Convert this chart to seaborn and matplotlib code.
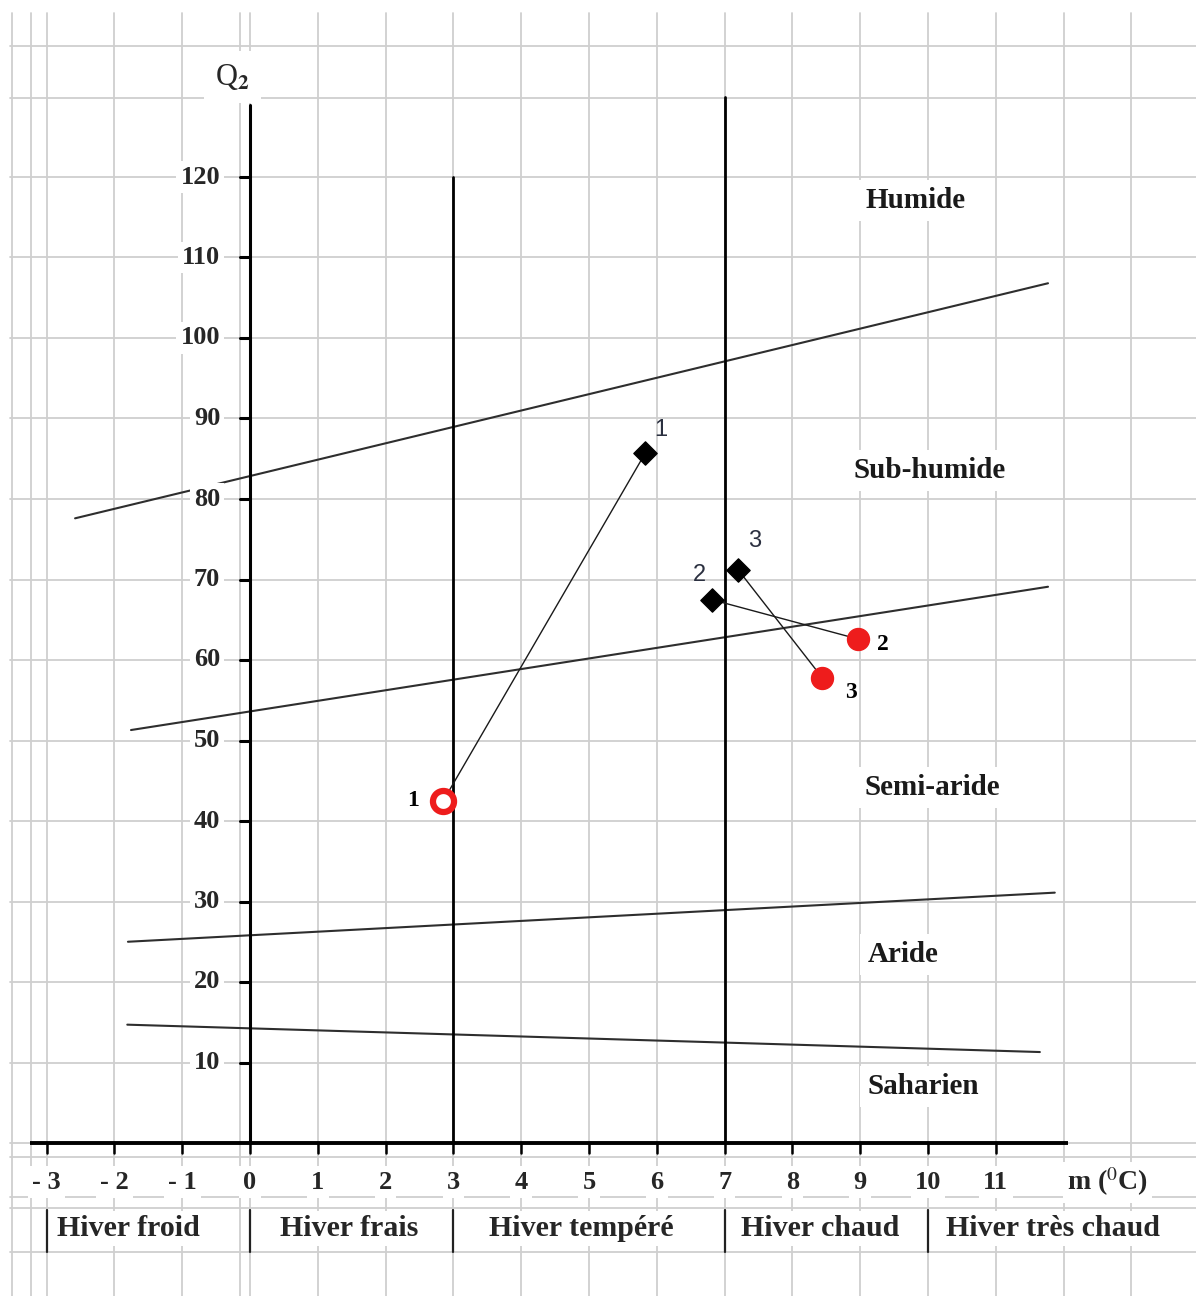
import matplotlib
matplotlib.use("Agg")
import matplotlib.pyplot as plt
import seaborn as sns
import pandas as pd

sns.set_theme(style="white")
plt.rcParams['font.family'] = ['Liberation Serif', 'DejaVu Serif']
plt.rcParams['mathtext.fontset'] = 'stix'

# ---------------- data ----------------
x_ticks = [-3, -2, -1, 0, 1, 2, 3, 4, 5, 6, 7, 8, 9, 10, 11]
x_tick_labels = ["- 3", "- 2", "- 1", "0", "1", "2", "3", "4", "5", "6", "7", "8", "9", "10", "11"]
y_ticks = [10, 20, 30, 40, 50, 60, 70, 80, 90, 100, 110, 120]

# climate-zone boundaries (start and end points)
limit_x = [[-2.58, 11.77], [-1.755, 11.77], [-1.80, 11.87], [-1.81, 11.65]]
limit_y = [[77.6, 106.8], [51.3, 69.1], [25.0, 31.1], [14.7, 11.3]]

zone_names = ["Humide", "Sub-humide", "Semi-aride", "Aride", "Saharien"]
zone_x = [9.81, 10.03, 10.07, 9.63, 9.93]
zone_y = [117.1, 83.6, 44.2, 23.4, 7.0]

winter_names = ["Hiver froid", "Hiver frais", "Hiver tempéré", "Hiver chaud", "Hiver très chaud"]
winter_x = [-1.8, 1.47, 4.88, 8.41, 11.84]
winter_bounds = [-3, 0, 3, 7, 10]

# stations: black = first period, red = second period
station_ids = ["1", "2", "3"]
black_m = [5.83, 6.81, 7.20]
black_q = [85.7, 67.5, 71.2]
red_m = [2.85, 8.97, 8.44]
red_q = [42.5, 62.6, 57.8]

# ---------------- figure ----------------
W, H = 1196, 1296
fig = plt.figure(figsize=(W / 100, H / 100), dpi=100)
ax = fig.add_axes([0, 0, 1, 1])
px_x, x0 = 67.8, 250
px_y, y0 = 8.05, 1143
ax.set_xlim(-x0 / px_x, (W - x0) / px_x)
ax.set_ylim(-(H - y0) / px_y, y0 / px_y)
ax.axis("off")

grid_c = "#cfcfcf"
grid_v = [-3.51, -3.23, -0.147] + list(range(-3, 14))
grid_h = [136.3, 129.8] + y_ticks + [0, -1.74, -6.71, -8.07, -13.54]
for gx in grid_v:
    ax.axvline(gx, ymin=0, ymax=0.99, color=grid_c, lw=1.3, zorder=0)
for gy in grid_h:
    ax.axhline(gy, xmin=0.008, xmax=1, color=grid_c, lw=1.3, zorder=0)

# zone boundary lines
for lx, ly in zip(limit_x, limit_y):
    sns.lineplot(x=lx, y=ly, ax=ax, color="#2e2e2e", lw=1.5, sort=False,
                 estimator=None, zorder=3)

# main axes
ax.plot([-3.24, 12.06], [0, 0], color="black", lw=2.8, zorder=4, solid_capstyle="butt")
ax.plot([0, 0], [0, 128.9], color="black", lw=2.2, zorder=4)
ax.plot([3, 3], [0, 120], color="black", lw=2.0, zorder=4)
ax.plot([7, 7], [0, 130], color="black", lw=2.0, zorder=4)

bb = dict(facecolor="white", edgecolor="none", pad=3)
for t in y_ticks:
    ax.plot([-0.15, 0], [t, t], color="black", lw=2.2, zorder=4)
    ax.text(-0.44, t, str(t), ha="right", va="center", fontsize=19,
            fontweight="bold", bbox=bb, zorder=5)
for t, lab in zip(x_ticks, x_tick_labels):
    ax.plot([t, t], [0, -1.25], color="black", lw=1.8, zorder=4)
    ax.text(t, -4.85, lab, ha="center", va="center", fontsize=19,
            fontweight="bold", bbox=bb, zorder=5)
ax.text(12.65, -4.85, r"m ($^{0}$C)", ha="center", va="center", fontsize=20,
        fontweight="bold", bbox=bb, zorder=5)
ax.text(-0.26, 132.4, r"Q$_{\mathbf{2}}$", ha="center", va="center", fontsize=22,
        bbox=dict(facecolor="white", edgecolor="none", pad=8), zorder=5)

for b in winter_bounds:
    ax.plot([b, b], [-8.3, -13.5], color="#222222", lw=1.6, zorder=4)
for name, wx in zip(winter_names, winter_x):
    ax.text(wx, -10.6, name, ha="center", va="center", fontsize=21.5,
            fontweight="bold", bbox=bb, zorder=5)

for name, zx, zy in zip(zone_names, zone_x, zone_y):
    ax.text(zx, zy, name, ha="center", va="center", fontsize=21,
            fontweight="bold", color="#1a1a1a",
            bbox=dict(facecolor="white", edgecolor="none", pad=5), zorder=5)

# connecting lines between the two periods
for bx, by, rx, ry in zip(black_m, black_q, red_m, red_q):
    sns.lineplot(x=[bx, rx], y=[by, ry], ax=ax, color="#1a1a1a", lw=1.0,
                 sort=False, estimator=None, zorder=6)

# markers
sns.scatterplot(x=black_m, y=black_q, ax=ax, marker="D", s=140, color="black",
                edgecolor="black", linewidth=1, zorder=7)
sns.scatterplot(x=red_m[1:], y=red_q[1:], ax=ax, marker="o", s=250,
                color="#ee1c1c", edgecolor="#ee1c1c", linewidth=1, zorder=7)
sns.scatterplot(x=red_m[:1], y=red_q[:1], ax=ax, marker="o", s=230,
                color="white", edgecolor="#ee1c1c", linewidth=4.5, zorder=7)

black_off = [(11, 17), (-9, 18), (12, 21)]
red_off = [(-22, 0), (18, -4), (21, -11)]
for sid, bx, by, off in zip(station_ids, black_m, black_q, black_off):
    ax.annotate(sid, (bx, by), xytext=off, textcoords="offset points",
                ha="center", va="center", fontsize=17, color="#2b3040",
                family=["Liberation Sans", "DejaVu Sans"], zorder=8)
for sid, rx, ry, off in zip(station_ids, red_m, red_q, red_off):
    ax.annotate(sid, (rx, ry), xytext=off, textcoords="offset points",
                ha="center", va="center", fontsize=17, color="black",
                fontweight="bold", zorder=8)

fig.savefig("out.png", dpi=100, facecolor="white")
